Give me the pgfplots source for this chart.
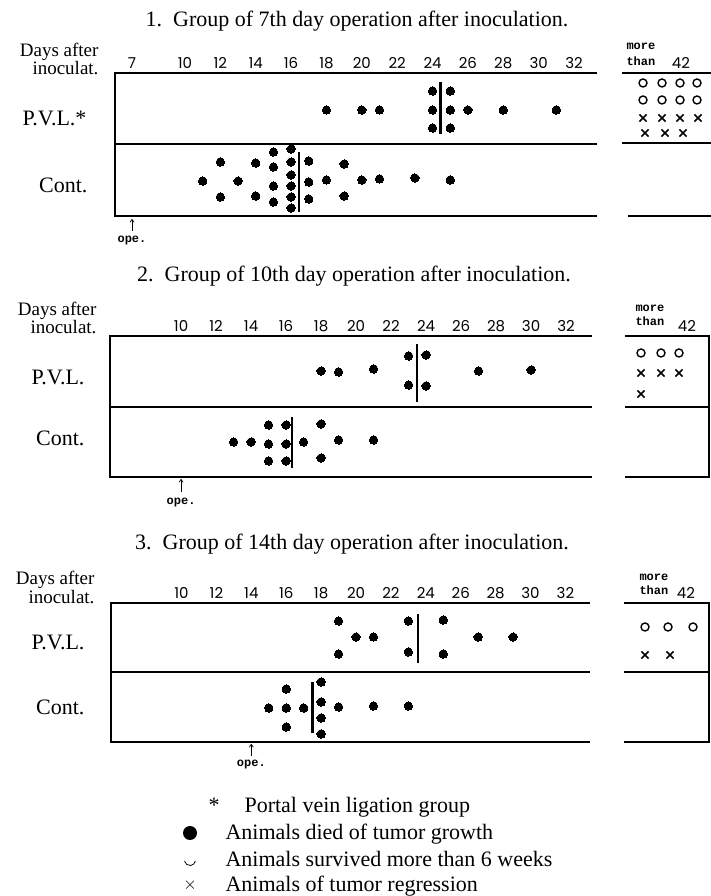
\documentclass[border=0pt]{standalone}
\usepackage{pgfplots}
\pgfplotsset{compat=1.18}
\usepackage{fontspec}
\setmainfont{Liberation Serif}
\newfontfamily\tickfont{Poppins}
\newfontfamily\typew{Liberation Mono}
\newcommand{\serL}{\fontsize{22}{26}\selectfont}
\newcommand{\serM}{\fontsize{19}{22}\selectfont}
\newcommand{\tk}{\tickfont\fontsize{15}{18}\selectfont}
\newcommand{\mono}{\typew\bfseries\fontsize{12}{14}\selectfont}
\usetikzlibrary{arrows.meta}

\pgfplotsset{
  dotplot/.style={
    scale only axis, clip=false, anchor=south west,
    axis line style={draw=none},
    major tick length=0pt, tick style={draw=none},
    ytick=\empty, ymin=0,
    xticklabel pos=upper,
    xticklabel style={font=\tk, yshift=1pt},
  },
  died/.style={only marks, mark=*, mark size=4.2pt, mark options={draw=black, fill=black, line width=0pt}},
  surv/.style={only marks, mark=o, mark size=4pt, mark options={draw=black, line width=1.4pt}},
  regr/.style={only marks, mark=x, mark size=5pt, mark options={draw=black, line width=1.5pt}},
  med/.style={line width=2.5pt, black, no marks},
}

\begin{document}
\begin{tikzpicture}
\useasboundingbox (0,0) rectangle (711pt,896pt);

% ---------- titles ----------
\node[anchor=base, font=\serL] at (357pt,869pt) {1.\ \ Group of 7th day operation after inoculation.};
\node[anchor=base, font=\serL] at (354pt,614pt) {2.\ \ Group of 10th day operation after inoculation.};
\node[anchor=base, font=\serL] at (352pt,346pt) {3.\ \ Group of 14th day operation after inoculation.};

% ---------- row labels ----------
\node[anchor=base east, font=\serM] at (102pt,839pt) {Days after};
\node[anchor=base east, font=\serM] at (102pt,821pt) {inoculat.};
\node[anchor=base east, font=\serL] at (90pt,770.5pt) {P.V.L.*};
\node[anchor=base east, font=\serL] at (91pt,703pt) {Cont.};

\node[anchor=base east, font=\serM] at (100pt,580pt) {Days after};
\node[anchor=base east, font=\serM] at (100pt,562pt) {inoculat.};
\node[anchor=base east, font=\serL] at (88pt,511.5pt) {P.V.L.};
\node[anchor=base east, font=\serL] at (88pt,450.5pt) {Cont.};

\node[anchor=base east, font=\serM] at (98pt,311pt) {Days after};
\node[anchor=base east, font=\serM] at (98pt,292pt) {inoculat.};
\node[anchor=base east, font=\serL] at (88pt,246.5pt) {P.V.L.};
\node[anchor=base east, font=\serL] at (88pt,181.5pt) {Cont.};

% ---------- more than ----------
\node[anchor=base west, font=\mono] at (623pt,846pt) {more};
\node[anchor=base west, font=\mono] at (623pt,830pt) {than};
\node[anchor=base west, font=\mono] at (632pt,584pt) {more};
\node[anchor=base west, font=\mono] at (632pt,570pt) {than};
\node[anchor=base west, font=\mono] at (636pt,315pt) {more};
\node[anchor=base west, font=\mono] at (636pt,301pt) {than};

% ================= Panel 1 =================
\begin{axis}[dotplot, at={(115pt,680pt)}, width=482pt, height=143pt,
  xmin=6.04, xmax=33.30, ymax=143,
  xtick={7,10,12,14,16,18,20,22,24,26,28,30,32},
  xticklabels={7,10,12,14,16,18,20,22,24,26,28,30,32}]
\draw[line width=2.5pt, line join=miter] (rel axis cs:1,1) -- (rel axis cs:0,1) -- (rel axis cs:0,0) -- (rel axis cs:1,0);
\draw[line width=2.4pt] (axis cs:6.04,72) -- (axis cs:33.30,72);
% P.V.L.
\addplot[died] coordinates {(18,106) (20,106) (21,106) (24,125) (24,106) (24,88) (25,125) (25,106) (25,88) (26,106) (28,106) (31,106)};
\addplot[med] coordinates {(24.45,82) (24.45,134)};
% Cont.
\addplot[died] coordinates {(11,35) (12,54) (12,19) (13,35) (14,53) (14,20) (15,64) (15,49) (15,30) (15,14) (16,67) (16,54) (16,41) (16,30) (16,19) (16,8) (17,55) (17,34) (17,17) (18,36) (19,52) (19,20) (20,36) (21,37) (23,38) (25,36)};
\addplot[med] coordinates {(16.45,4) (16.45,64)};
% operation
\draw[line width=0.7pt, -{To[length=3.5pt,width=4.5pt]}] (axis cs:7,-15) -- (axis cs:7,-3);
\node[font=\mono] at (axis cs:7,-25) {ope.};
\end{axis}

\begin{axis}[dotplot, at={(622pt,680pt)}, width=89pt, height=143pt,
  xmin=0, xmax=89, ymax=143, xtick={59}, xticklabels={42}]
\draw[line width=2.5pt] (axis cs:0,143) -- (axis cs:89,143);
\draw[line width=2.4pt] (axis cs:0,73) -- (axis cs:89,73);
\draw[line width=2.5pt] (axis cs:6,0) -- (axis cs:89,0);
\addplot[surv] coordinates {(21,133) (40,133) (58,133) (75,133) (21,116) (40,116) (58,116) (75,116)};
\addplot[regr] coordinates {(21,98) (40,98) (58,98) (76,98) (23,83) (43,83) (61,83)};
\end{axis}

% ================= Panel 2 =================
\begin{axis}[dotplot, at={(110pt,419pt)}, width=482pt, height=141pt,
  xmin=5.937, xmax=33.48, ymax=141,
  xtick={10,12,14,16,18,20,22,24,26,28,30,32},
  xticklabels={10,12,14,16,18,20,22,24,26,28,30,32}]
\draw[line width=2.5pt, line join=miter] (rel axis cs:1,1) -- (rel axis cs:0,1) -- (rel axis cs:0,0) -- (rel axis cs:1,0);
\draw[line width=2.4pt] (axis cs:5.937,70) -- (axis cs:33.48,70);
\addplot[died] coordinates {(18,106) (19,105) (21,108) (23,121) (23,92) (24,122) (24,91) (27,106) (30,107)};
\addplot[med] coordinates {(23.48,75) (23.48,133)};
\addplot[died] coordinates {(13,35) (14,35) (15,52) (15,33) (15,16) (16,52) (16,33) (16,16) (17,35) (18,53) (18,19) (19,37) (21,37)};
\addplot[med] coordinates {(16.35,9) (16.35,60)};
\draw[line width=0.7pt, -{To[length=3.5pt,width=4.5pt]}] (axis cs:10,-15) -- (axis cs:10,-2);
\node[font=\mono] at (axis cs:10,-26) {ope.};
\end{axis}

\begin{axis}[dotplot, at={(625pt,419pt)}, width=84pt, height=141pt,
  xmin=0, xmax=84, ymax=141, xtick={62}, xticklabels={42}]
\draw[line width=2.5pt, line join=miter] (rel axis cs:0,1) -- (rel axis cs:1,1) -- (rel axis cs:1,0) -- (rel axis cs:0,0);
\draw[line width=2.4pt] (axis cs:0,70) -- (axis cs:84,70);
\addplot[surv] coordinates {(16,124) (36,124) (54,124)};
\addplot[regr] coordinates {(16,104) (36,104) (54,104) (16,83)};
\end{axis}

% ================= Panel 3 =================
\begin{axis}[dotplot, at={(111pt,154pt)}, width=479pt, height=139pt,
  xmin=5.957, xmax=33.41, ymax=139,
  xtick={10,12,14,16,18,20,22,24,26,28,30,32},
  xticklabels={10,12,14,16,18,20,22,24,26,28,30,32}]
\draw[line width=2.5pt, line join=miter] (rel axis cs:1,1) -- (rel axis cs:0,1) -- (rel axis cs:0,0) -- (rel axis cs:1,0);
\draw[line width=2.4pt] (axis cs:5.957,70) -- (axis cs:33.41,70);
\addplot[died] coordinates {(19,121) (19,88) (20,105) (21,105) (23,121) (23,90) (25,122) (25,88) (27,105) (29,105)};
\addplot[med] coordinates {(23.55,79) (23.55,128)};
\addplot[died] coordinates {(15,34) (16,53) (16,34) (16,15) (17,34) (18,60) (18,40) (18,24) (18,8) (19,35) (21,36) (23,36)};
\addplot[med] coordinates {(17.5,9) (17.5,60)};
\draw[line width=0.7pt, -{To[length=3.5pt,width=4.5pt]}] (axis cs:14,-14) -- (axis cs:14,-2);
\node[font=\mono] at (axis cs:14,-23) {ope.};
\end{axis}

\begin{axis}[dotplot, at={(624pt,154pt)}, width=85pt, height=139pt,
  xmin=0, xmax=85, ymax=139, xtick={62}, xticklabels={42}]
\draw[line width=2.5pt, line join=miter] (rel axis cs:0,1) -- (rel axis cs:1,1) -- (rel axis cs:1,0) -- (rel axis cs:0,0);
\draw[line width=2.4pt] (axis cs:0,70) -- (axis cs:85,70);
\addplot[surv] coordinates {(21,115) (44,115) (69,115)};
\addplot[regr] coordinates {(21,87) (46,87)};
\end{axis}

% ---------- legend ----------
\node[anchor=base, font=\serL] at (214pt,83pt) {*};
\node[anchor=base west, font=\serL] at (241pt,83pt) {Portal vein ligation group};
\fill (190pt,63pt) circle (7pt);
\node[anchor=base west, font=\serL] at (222pt,56pt) {Animals died of tumor growth};
\draw[line width=0.8pt] (184.5pt,35pt) arc[start angle=190, end angle=350, radius=5.5pt];
\node[anchor=base west, font=\serL] at (222pt,29pt) {Animals survived more than 6 weeks};
\node[font=\fontsize{18}{20}\selectfont] at (190pt,11pt) {$\times$};
\node[anchor=base west, font=\serL] at (222pt,5pt) {Animals of tumor regression};
\end{tikzpicture}
\end{document}
